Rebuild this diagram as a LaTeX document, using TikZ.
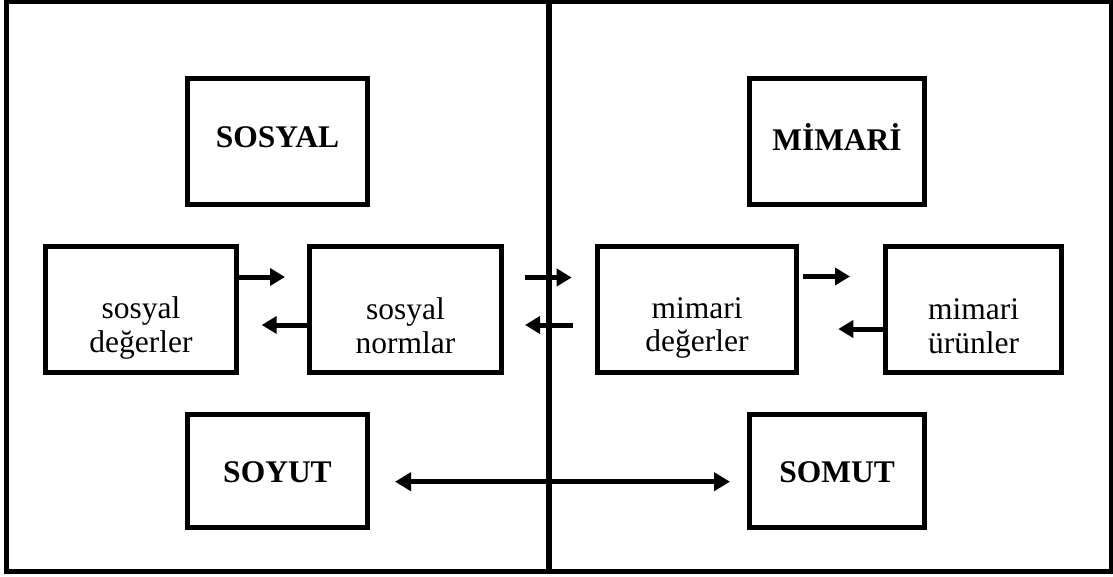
\documentclass[tikz,border=0pt]{standalone}
\usepackage{fontspec}
\setmainfont{Liberation Serif}
\usetikzlibrary{arrows.meta}

\begin{document}
\begin{tikzpicture}[x=1pt, y=-1pt,
  box/.style={draw, line width=5pt, inner sep=0pt},
  title/.style={font=\fontsize{31.5}{33}\selectfont\bfseries, inner sep=0pt},
  body/.style={font=\fontsize{31.5}{33.5}\selectfont, align=center, inner sep=0pt},
  arr/.style={line width=5pt, -{Triangle[length=15pt,width=17pt]}},
  darr/.style={line width=5pt, {Triangle[length=16pt,width=18pt]}-{Triangle[length=16pt,width=18pt]}},
]
\useasboundingbox (0,0) rectangle (1113,576);

% outer frame and the dividing line
\draw[line width=5pt] (6.5,1) rectangle (1111,571);
\draw[line width=6pt] (549,1) -- (549,571);

% headings
\node[box, minimum width=180pt, minimum height=126pt,
  label={[title, yshift=4.5pt]center:SOSYAL}] (sosyal) at (277.5,141.5) {};
\node[box, minimum width=175pt, minimum height=126pt,
  label={[title, yshift=4.5pt]center:MİMARİ}] (mimari) at (837,141.5) {};

% middle row
\node[box, minimum width=191pt, minimum height=126pt,
  label={[body, yshift=-18.5pt]center:{sosyal\\değerler}}] (sd) at (141,309.5) {};
\node[box, minimum width=192pt, minimum height=126pt,
  label={[body, yshift=-16pt]center:{sosyal\\normlar}}] (sn) at (405.5,309.5) {};
\node[box, minimum width=199pt, minimum height=126pt,
  label={[body, yshift=-18.5pt]center:{mimari\\değerler}}] (md) at (697,309.5) {};
\node[box, minimum width=176pt, minimum height=126pt,
  label={[body, yshift=-16.5pt]center:{mimari\\ürünler}}] (mu) at (973.5,309.5) {};

% bottom row
\node[box, minimum width=180pt, minimum height=113pt,
  label={[title, yshift=-1pt]center:SOYUT}] (soyut) at (277.5,471) {};
\node[box, minimum width=175pt, minimum height=113pt,
  label={[title, yshift=-1pt]center:SOMUT}] (somut) at (837,471) {};

% connectors
\draw[arr, shorten >=22pt] ([yshift=32.5pt]sd.east) -- ([yshift=32.5pt]sn.west);
\draw[arr, shorten >=22.7pt] ([yshift=-15.5pt]sn.west) -- ([yshift=-15.5pt]sd.east);
\draw[arr, shorten <=21pt, shorten >=23.3pt] ([yshift=32pt]sn.east) -- ([yshift=32pt]md.west);
\draw[arr, shorten <=22.3pt, shorten >=21pt] ([yshift=-15.5pt]md.west) -- ([yshift=-15.5pt]sn.east);
\draw[arr, shorten <=3.7pt, shorten >=33pt] ([yshift=33pt]md.east) -- ([yshift=33pt]mu.west);
\draw[arr, shorten >=39.3pt] ([yshift=-19.5pt]mu.west) -- ([yshift=-19.5pt]md.east);
\draw[darr, shorten <=25pt, shorten >=17pt] ([yshift=-10.7pt]soyut.east) -- ([yshift=-10.7pt]somut.west);
\end{tikzpicture}
\end{document}
